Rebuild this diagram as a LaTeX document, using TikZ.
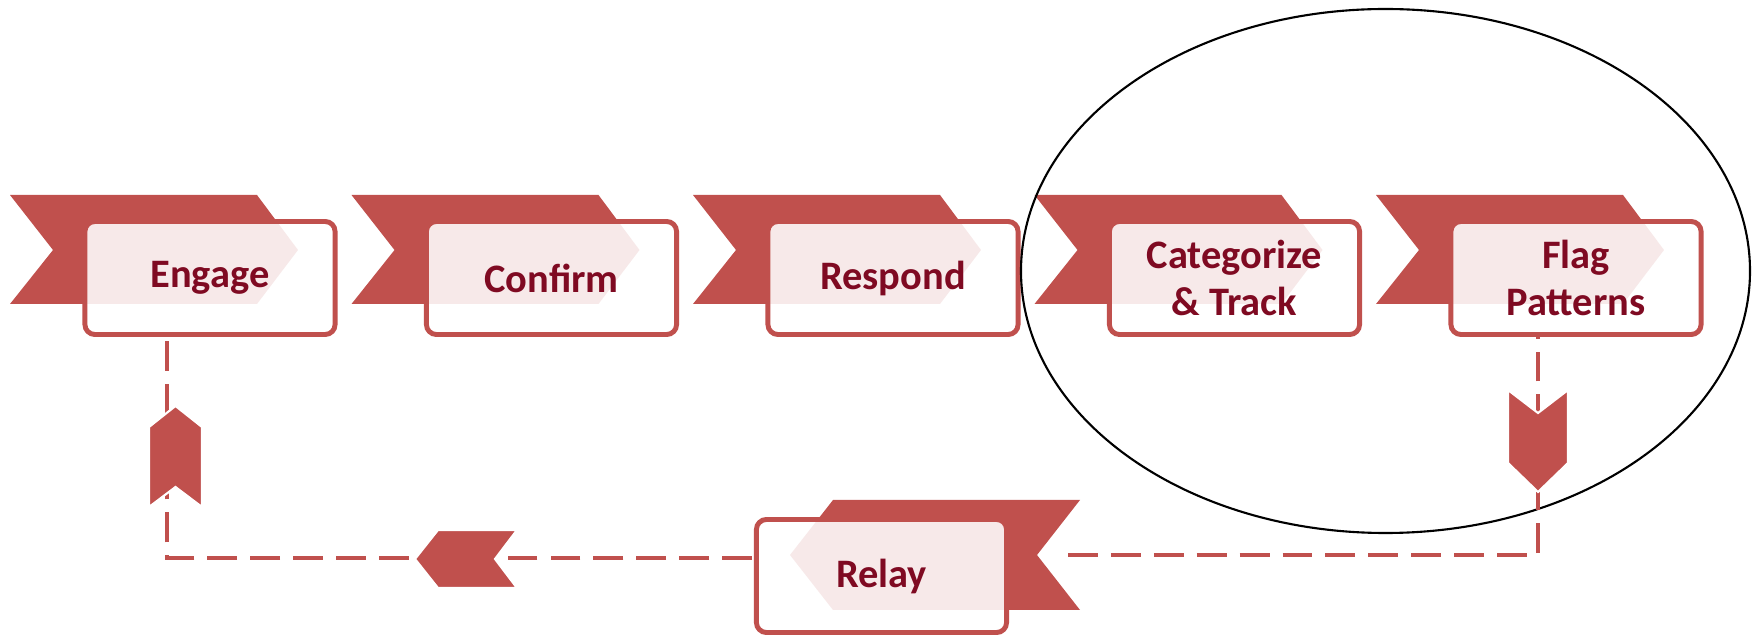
\documentclass[tikz,border=0pt]{standalone}
\usepackage{fontspec}
\setmainfont{Carlito}
\definecolor{flagred}{HTML}{C0504D}
\definecolor{textred}{HTML}{7F0A22}
\tikzset{
	stepbox/.style={draw=flagred,line width=1.4pt,rounded corners=1mm,fill=white,fill opacity=0.88,text opacity=1,minimum width=2.5cm,minimum height=1.13cm,align=center,text=textred,font=\fontsize{11.5}{13.5}\selectfont\bfseries},
	flagfill/.style={fill=flagred,draw=none},
	chevfill/.style={fill=flagred,draw=white,line width=0.6pt},
	flow/.style={draw=flagred,line width=1pt,dash pattern=on 8.5pt off 3.7pt}
}
\begin{document}
\begin{tikzpicture}[x=0.01cm,y=-0.01cm]
	\useasboundingbox (0,0) rectangle (1760,637);
	% ribbons behind the boxes
	\fill[flagfill] (10,195) -- (257,195) -- (298,250) -- (257,304) -- (10,304) -- (53,250) -- cycle;
	\fill[flagfill] (351.5,195) -- (598.5,195) -- (639.5,250) -- (598.5,304) -- (351.5,304) -- (394.5,250) -- cycle;
	\fill[flagfill] (693,195) -- (940,195) -- (981,250) -- (940,304) -- (693,304) -- (736,250) -- cycle;
	\fill[flagfill] (1034.5,195) -- (1281.5,195) -- (1322.5,250) -- (1281.5,304) -- (1034.5,304) -- (1077.5,250) -- cycle;
	\fill[flagfill] (1376,195) -- (1623,195) -- (1664,250) -- (1623,304) -- (1376,304) -- (1419,250) -- cycle;
	\fill[flagfill] (1080,500) -- (833,500) -- (790,555) -- (833,610) -- (1080,610) -- (1037,555) -- cycle;
	% boxes
	\node[stepbox] (engage) at (210,278) {Engage};
	\node[stepbox] (confirm) at (551.5,278) {Confirm};
	\node[stepbox] (respond) at (893,278) {Respond};
	\node[stepbox] (categorize) at (1234.5,278) {Categorize\\\& Track};
	\node[stepbox] (flag) at (1576,278) {Flag\\Patterns};
	\node[stepbox] (relay) at (881.5,576) {Relay};
	\draw[black,line width=0.6pt] (1385.5,271) ellipse [x radius=364.5,y radius=262];
	% loop back
	\coordinate (flagout) at (1538,337);
	\coordinate (rightcorner) at (1538,555);
	\coordinate (relayin) at (1068,555);
	\coordinate (relayout) at (752,558);
	\coordinate (leftcorner) at (167,558);
	\coordinate (engagein) at (167,337);
	\draw[flow] (relayin) -- (rightcorner) -- (flagout);
	\draw[flow] (relayout) -- (leftcorner) -- (engagein);
	\filldraw[chevfill] (1508,390) -- (1538,413) -- (1568,390) -- (1568,463) -- (1538,492) -- (1508,463) -- cycle;
	\filldraw[chevfill] (415,559) -- (438,530) -- (517,530) -- (495,559) -- (517,588) -- (438,588) -- cycle;
	\filldraw[chevfill] (149,427) -- (175.5,406) -- (202,427) -- (202,507) -- (175.5,487) -- (149,507) -- cycle;
\end{tikzpicture}
\end{document}
